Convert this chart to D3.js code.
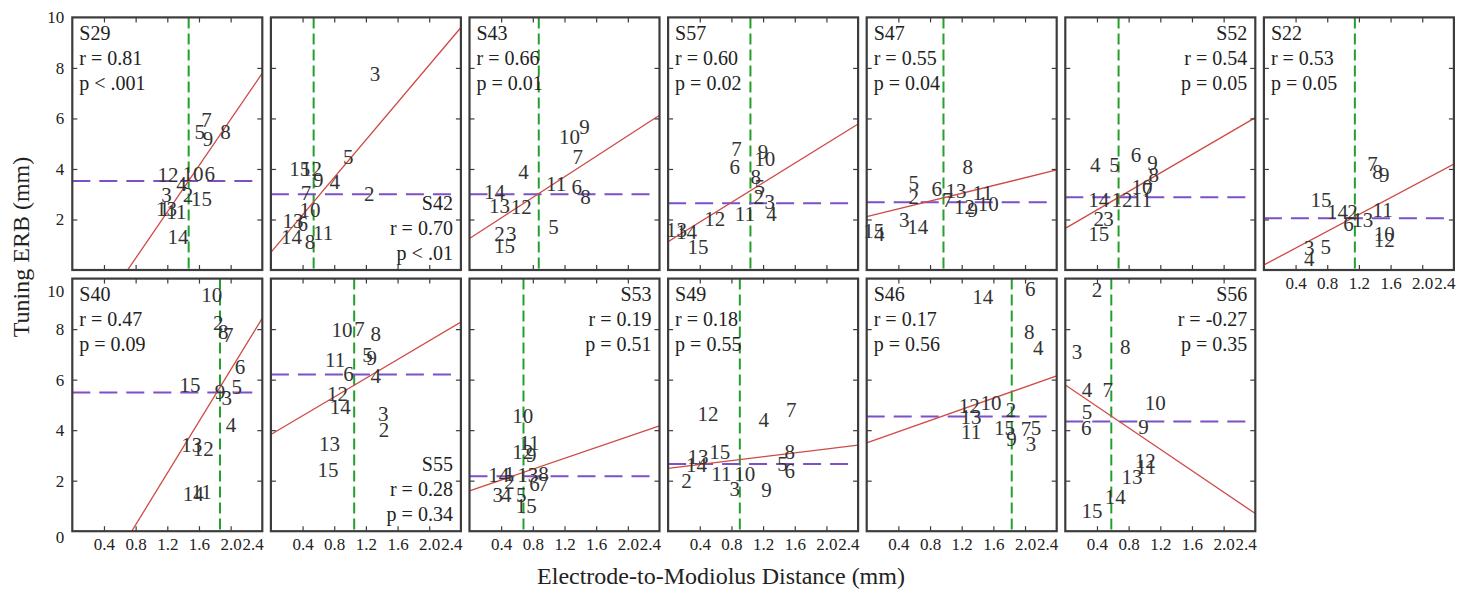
<!DOCTYPE html>
<html>
<head>
<meta charset="utf-8">
<script src="https://cdn.jsdelivr.net/npm/d3@7/dist/d3.min.js"></script>
<style>
  body { margin: 0; background: #fff; }
  svg text { font-family: "Liberation Serif", "Times New Roman", serif !important; fill: #222; }
</style>
</head>
<body>
<svg id="chart" width="1473" height="591"></svg>
<script>
// Per-subject summary: correlation between electrode-to-modiolus distance and tuning ERB
const subjects   = ["S29","S42","S43","S57","S47","S52","S22","S40","S55","S53","S49","S46","S56"];
const rValues    = ["0.81","0.70","0.66","0.60","0.55","0.54","0.53","0.47","0.28","0.19","0.18","0.17","-0.27"];
const pValues    = ["< .001","< .01","= 0.01","= 0.02","= 0.04","= 0.05","= 0.05","= 0.09","= 0.34","= 0.51","= 0.55","= 0.56","= 0.35"];
const statCorner = ["tl","br","tl","tl","tl","tr","tl","tl","br","tr","tl","tl","tr"];

// Mean distance (green) and mean ERB (purple) per subject
const meanDistance = [1.47, 0.54, 0.875, 1.04, 0.97, 0.673, 1.149, 1.866, 1.052, 0.682, 0.906, 1.832, 0.581];
const meanErb      = [3.52, 3.00, 3.00, 2.64, 2.68, 2.88, 2.05, 5.49, 6.20, 2.18, 2.66, 4.54, 4.34];

// Least-squares fit per subject: ERB = intercept + slope * distance
const fitIntercept = [-3.20, 0.70, 1.25, 1.12, 2.11, 1.65, 0.20, -3.84, 3.83, 1.60, 2.49, 3.50, 5.79];
const fitSlope     = [4.58, 3.708, 2.033, 1.942, 0.771, 1.825, 1.663, 5.115, 1.854, 1.071, 0.383, 1.104, -2.121];

// Electrode number, distance (mm), tuning ERB (mm)
const electrodes = [
  // S29
  [["5",1.61,5.47],["7",1.695,5.96],["9",1.715,5.21],["8",1.935,5.47],["12",1.21,3.79],["4",1.38,3.43],
   ["10",1.526,3.83],["6",1.737,3.83],["3",1.19,2.97],["2",1.463,2.97],["15",1.632,2.84],["13",1.19,2.44],
   ["1",1.16,2.44],["11",1.316,2.31],["14",1.336,1.32]],
  // S42
  [["15",0.366,4.02],["12",0.514,4.02],["9",0.597,3.56],["4",0.808,3.49],["7",0.442,3.06],["10",0.493,2.37],
   ["13",0.278,1.95],["6",0.404,1.82],["14",0.261,1.32],["8",0.493,1.12],["11",0.661,1.49],["3",1.314,7.76],
   ["5",0.976,4.48],["2",1.242,3.04]],
  // S43
  [["10",1.263,5.28],["9",1.453,5.67],["7",1.368,4.48],["4",0.682,3.89],["14",0.316,3.10],["13",0.379,2.53],
   ["12",0.653,2.50],["11",1.095,3.43],["6",1.355,3.30],["8",1.465,2.90],["5",1.061,1.71],["2",0.379,1.45],
   ["3",0.527,1.45],["15",0.442,0.95]],
  // S57
  [["7",0.863,4.82],["6",0.842,4.09],["9",1.20,4.68],["10",1.221,4.42],["8",1.108,3.69],["5",1.158,3.30],
   ["2",1.146,2.90],["3",1.285,2.70],["4",1.305,2.24],["11",0.969,2.24],["12",0.59,2.05],["13",0.105,1.58],
   ["14",0.231,1.52],["15",0.379,0.92]],
  // S47
  [["8",1.276,4.09],["5",0.594,3.46],["2",0.594,2.90],["6",0.884,3.23],["13",1.128,3.14],["7",1.023,2.77],
   ["11",1.465,3.06],["12",1.234,2.50],["9",1.339,2.40],["10",1.537,2.64],["3",0.476,1.98],["14",0.644,1.71],
   ["15",0.088,1.55],["4",0.16,1.45]],
  // S52
  [["4",0.379,4.19],["5",0.623,4.19],["6",0.893,4.55],["9",1.103,4.24],["8",1.116,3.76],["10",0.970,3.30],
   ["7",1.038,3.17],["14",0.421,2.77],["12",0.716,2.77],["11",0.968,2.77],["2",0.421,2.05],["3",0.547,2.05],
   ["15",0.421,1.45]],
  // S22
  [["7",1.373,4.22],["8",1.436,3.89],["9",1.52,3.76],["15",0.72,2.77],["14",0.931,2.31],["2",1.12,2.31],
   ["6",1.07,1.85],["13",1.25,1.98],["11",1.499,2.37],["10",1.52,1.45],["12",1.52,1.19],["3",0.573,0.90],
   ["5",0.78,0.92],["4",0.573,0.46]],
  // S40
  [["10",1.761,9.37],["2",1.845,8.24],["8",1.908,7.91],["7",1.971,7.78],["6",2.118,6.52],["15",1.487,5.79],
   ["5",2.076,5.73],["9",1.866,5.53],["3",1.950,5.27],["4",2.005,4.21],["13",1.508,3.41],["12",1.655,3.28],
   ["14",1.529,1.50],["11",1.634,1.56]],
  // S55
  [["10",0.897,7.98],["7",1.119,8.00],["8",1.326,7.82],["5",1.22,6.98],["9",1.275,6.89],["11",0.812,6.79],
   ["6",0.980,6.22],["4",1.326,6.15],["12",0.841,5.46],["14",0.875,4.93],["3",1.42,4.67],["2",1.43,4.01],
   ["13",0.74,3.48],["15",0.72,2.42]],
  // S53
  [["10",0.673,4.58],["11",0.758,3.49],["12",0.673,3.15],["9",0.779,3.02],["13",0.736,2.25],["14",0.370,2.25],
   ["1",0.505,2.29],["2",0.505,1.98],["8",0.935,2.29],["6",0.821,1.90],["7",0.935,1.90],["3",0.358,1.43],
   ["4",0.463,1.43],["5",0.653,1.43],["15",0.716,1.03]],
  // S49
  [["12",0.505,4.64],["4",1.208,4.40],["7",1.557,4.80],["15",0.653,3.15],["13",0.379,2.95],["14",0.358,2.62],
   ["2",0.231,2.00],["11",0.673,2.29],["10",0.968,2.29],["3",0.842,1.69],["9",1.242,1.65],["8",1.536,3.15],
   ["5",1.444,2.66],["6",1.536,2.39]],
  // S46
  [["14",1.465,9.30],["6",2.067,9.59],["8",2.054,7.91],["4",2.168,7.25],["12",1.297,4.96],["10",1.57,5.07],
   ["13",1.318,4.54],["11",1.318,3.94],["2",1.822,4.80],["15",1.74,4.11],["7",2.011,4.07],["5",2.14,4.11],
   ["9",1.83,3.68],["3",2.075,3.48]],
  // S56
  [["2",0.40,9.56],["8",0.758,7.29],["3",0.147,7.12],["4",0.273,5.60],["7",0.535,5.60],["5",0.273,4.73],
   ["6",0.265,4.08],["10",1.136,5.07],["9",0.989,4.14],["12",1.01,2.80],["11",1.02,2.55],["13",0.842,2.15],
   ["14",0.631,1.36],["15",0.337,0.83]]
];

const xTicks = [0.4, 0.8, 1.2, 1.6, 2.0, 2.4];
const yTicks = [0, 2, 4, 6, 8, 10];
const xLabel = "Electrode-to-Modiolus Distance (mm)";
const yLabel = "Tuning ERB (mm)";

// Layout
const perRow = 7, colStep = 198.6, left0 = 72.3, panelW = 190, panelH = 252.6;
const rowTop = [17.4, 278.6];
const colors = { frame: "#3c3c3c", fit: "#cf4a45", meanX: "#23a02a", meanY: "#7b50c8", label: "#333" };
const serif = '"Liberation Serif", "Times New Roman", serif';

const svg = d3.select("#chart");
const x = d3.scaleLinear().domain([0, 2.4]).range([0, panelW]);
const y = d3.scaleLinear().domain([0, 10]).range([panelH, 0]);
const fmt = d3.format(".1f");

subjects.forEach((subj, i) => {
  const row = i < perRow ? 0 : 1;
  const col = i < perRow ? i : i - perRow;
  const g = svg.append("g").attr("transform", `translate(${left0 + col * colStep},${rowTop[row]})`);

  const clipId = "clip" + i;
  g.append("clipPath").attr("id", clipId)
    .append("rect").attr("width", panelW).attr("height", panelH);

  const plot = g.append("g").attr("clip-path", `url(#${clipId})`);

  // Mean distance (vertical) and mean ERB (horizontal)
  plot.append("line")
    .attr("x1", x(meanDistance[i])).attr("x2", x(meanDistance[i]))
    .attr("y1", y(10)).attr("y2", y(0))
    .attr("stroke", colors.meanX).attr("stroke-width", 2).attr("stroke-dasharray", "11,5");
  plot.append("line")
    .attr("x1", x(0)).attr("x2", x(2.33))
    .attr("y1", y(meanErb[i])).attr("y2", y(meanErb[i]))
    .attr("stroke", colors.meanY).attr("stroke-width", 2).attr("stroke-dasharray", "18,9");

  // Regression line
  plot.append("line")
    .attr("x1", x(0)).attr("y1", y(fitIntercept[i]))
    .attr("x2", x(2.4)).attr("y2", y(fitIntercept[i] + fitSlope[i] * 2.4))
    .attr("stroke", colors.fit).attr("stroke-width", 1.3);

  // Electrode numbers
  g.append("g").selectAll("text").data(electrodes[i]).join("text")
    .attr("x", d => x(d[1])).attr("y", d => y(d[2]))
    .attr("dy", "0.35em").attr("text-anchor", "middle")
    .style("font-family", serif).style("font-size", "21px").style("fill", colors.label)
    .text(d => d[0]);

  // Statistics text
  const lines = [subj, "r = " + rValues[i], "p " + pValues[i]];
  const corner = statCorner[i];
  const tx = corner === "tl" ? 7 : panelW - 8;
  const anchor = corner === "tl" ? "start" : "end";
  const baselines = corner === "br" ? [panelH - 60, panelH - 35, panelH - 10] : [22.5, 47.5, 72.5];
  g.append("g").selectAll("text").data(lines).join("text")
    .attr("x", tx).attr("y", (d, k) => baselines[k])
    .attr("text-anchor", anchor)
    .style("font-family", serif).style("font-size", "20px")
    .text(d => d);

  // Inward tick marks on all four sides
  const inner = xTicks.filter(v => v < 2.4);
  const innerY = yTicks.filter(v => v > 0 && v < 10);
  const tickStyle = sel => sel.call(s => s.select(".domain").remove())
    .call(s => s.selectAll(".tick line").attr("stroke", colors.frame).attr("stroke-width", 1.2));
  g.append("g").attr("transform", `translate(0,${panelH})`)
    .call(d3.axisBottom(x).tickValues(inner).tickSize(-5).tickFormat("")).call(tickStyle);
  g.append("g")
    .call(d3.axisTop(x).tickValues(inner).tickSize(-5).tickFormat("")).call(tickStyle);
  g.append("g")
    .call(d3.axisLeft(y).tickValues(innerY).tickSize(-5).tickFormat("")).call(tickStyle);
  g.append("g").attr("transform", `translate(${panelW},0)`)
    .call(d3.axisRight(y).tickValues(innerY).tickSize(-5).tickFormat("")).call(tickStyle);

  // Frame
  g.append("rect").attr("width", panelW).attr("height", panelH)
    .attr("fill", "none").attr("stroke", colors.frame).attr("stroke-width", 2.2);

  // X tick labels on the bottom row and on the last panel of the top row
  if (row === 1 || col === perRow - 1) {
    const ax = g.append("g").attr("transform", `translate(0,${panelH})`)
      .call(d3.axisBottom(x).tickValues(xTicks).tickSize(0).tickPadding(7).tickFormat(fmt));
    ax.select(".domain").remove();
    ax.selectAll("text").style("font-family", serif).style("font-size", "17px")
      .attr("text-anchor", d => d === 2.4 ? "end" : "middle")
      .attr("x", d => d === 2.4 ? 1 : 0);
  }

  // Y tick labels on the first column
  if (col === 0) {
    const vals = row === 0 ? yTicks.filter(v => v > 0) : yTicks;
    const ay = g.append("g")
      .call(d3.axisLeft(y).tickValues(vals).tickSize(0).tickPadding(8));
    ay.select(".domain").remove();
    ay.selectAll("text").style("font-family", serif).style("font-size", "17px")
      .attr("dy", d => row === 1 && d === 10 ? "1.05em" : row === 1 && d === 0 ? "0.65em" : "0.32em");
  }
});

// Axis titles
svg.append("text")
  .attr("transform", "translate(29,247) rotate(-90)")
  .attr("text-anchor", "middle")
  .style("font-family", serif).style("font-size", "24px")
  .text(yLabel);
svg.append("text")
  .attr("x", 721).attr("y", 584)
  .attr("text-anchor", "middle")
  .style("font-family", serif).style("font-size", "24px")
  .text(xLabel);
</script>
</body>
</html>
